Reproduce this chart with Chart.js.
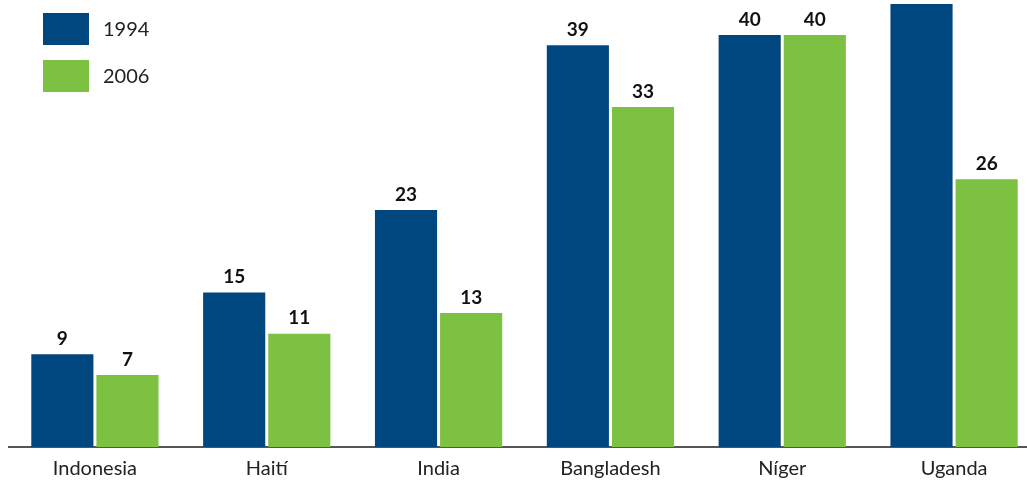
<!DOCTYPE html>
<html>
<head>
<meta charset="utf-8">
<script src="https://cdn.jsdelivr.net/npm/chart.js@4"></script>
<style>
  html, body { margin: 0; padding: 0; background: #fff; overflow: hidden; }
  #wrap { width: 1040px; height: 481px; }
</style>
</head>
<body>
<div id="wrap"><canvas id="chart"></canvas></div>
<script>
// --- Data ---
const countries = ['Indonesia', 'Haití', 'India', 'Bangladesh', 'Níger', 'Uganda'];
const values1994 = [9, 15, 23, 39, 40, 43];
const values2006 = [7, 11, 13, 33, 40, 26];
const seriesNames = ['1994', '2006'];
const colors = ['#00467F', '#7DC142'];

// value labels above each bar
const valueLabels = {
    id: 'valueLabels',
    afterDatasetsDraw(chart) {
        const ctx = chart.ctx;
        ctx.save();
        ctx.font = 'bold 19px Lato, "Open Sans", sans-serif';
        ctx.fillStyle = '#111';
        ctx.textAlign = 'center';
        ctx.textBaseline = 'bottom';
        chart.data.datasets.forEach((ds, i) => {
            chart.getDatasetMeta(i).data.forEach((bar, j) => {
                ctx.fillText(ds.data[j], bar.x, bar.y - 6);
            });
        });
        ctx.restore();
    }
};

// legend drawn as stacked boxes top-left
const boxLegend = {
    id: 'boxLegend',
    afterDraw(chart) {
        const ctx = chart.ctx;
        ctx.save();
        ctx.font = '20px Lato, "Open Sans", sans-serif';
        ctx.textBaseline = 'middle';
        chart.data.datasets.forEach((ds, i) => {
            const y = 13 + i * 47;
            ctx.fillStyle = ds.backgroundColor;
            ctx.fillRect(43, y, 46, 32);
            ctx.fillStyle = '#222';
            ctx.fillText(ds.label, 103, y + 17);
        });
        ctx.restore();
    }
};

new Chart(document.getElementById('chart'), {
    type: 'bar',
    data: {
        labels: countries,
        datasets: [
            { label: seriesNames[0], data: values1994, backgroundColor: colors[0] },
            { label: seriesNames[1], data: values2006, backgroundColor: colors[1] }
        ]
    },
    options: {
        responsive: true,
        maintainAspectRatio: false,
        animation: false,
        clip: false,
        categoryPercentage: 0.758,
        barPercentage: 0.954,
        layout: { padding: { left: 9, right: 0, top: 0, bottom: 0 } },
        plugins: { legend: { display: false }, tooltip: { enabled: false } },
        scales: {
            x: {
                grid: { display: false, drawTicks: false },
                border: { display: true, color: '#555', width: 2 },
                ticks: { color: '#222', padding: 10, font: { size: 20, family: 'Lato, "Open Sans", sans-serif' } },
                afterFit(scale) { scale.height = 34; }
            },
            y: { display: false, min: 0, max: 43.4 }
        }
    },
    plugins: [valueLabels, boxLegend]
});
</script>
</body>
</html>
